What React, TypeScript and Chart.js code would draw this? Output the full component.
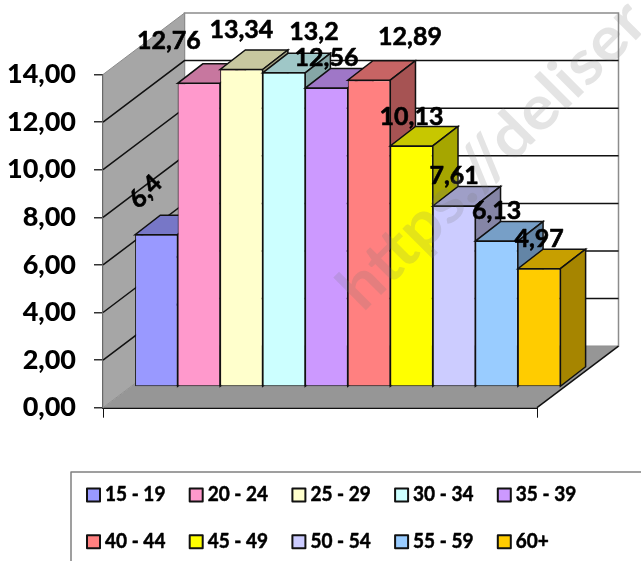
import React, { useEffect, useRef } from "react";
import { Chart, registerables } from "chart.js";

Chart.register(...registerables);

const ageGroups = ["15 - 19", "20 - 24", "25 - 29", "30 - 34", "35 - 39", "40 - 44", "45 - 49", "50 - 54", "55 - 59", "60+"];
const rates = [6.4, 12.76, 13.34, 13.2, 12.56, 12.89, 10.13, 7.61, 6.13, 4.97];
const rateLabels = ["6,4", "12,76", "13,34", "13,2", "12,56", "12,89", "10,13", "7,61", "6,13", "4,97"];
const barColors = ["#9999FF", "#FF99CC", "#FFFFCC", "#CCFFFF", "#CC99FF", "#FF8080", "#FFFF00", "#CCCCFF", "#99CCFF", "#FFCC00"];
const labelOffsets = [[-11, -42], [-30, -41], [0, -39], [30, -40], [0, -29], [41, -42], [0, -28], [0, -29], [0, -29], [0, -29]];
const labelAngles = [-45, 0, 0, 0, 0, 0, 0, 0, 0, 0];

const FONT = "Lato, 'Open Sans', sans-serif";
const WALL_DX = 81.5;
const WALL_DY = -61.5;
const BAR_TX = 27.75;
const BAR_TY = -20.7;
const LABEL_TY = -21.7;
const DEPTH_DX = 25.2;
const DEPTH_DY = -19.5;

const shade = (hex: string, f: number) => {
  const n = parseInt(hex.slice(1), 16);
  const r = Math.round(((n >> 16) & 255) * f);
  const g = Math.round(((n >> 8) & 255) * f);
  const b = Math.round((n & 255) * f);
  return `rgb(${r},${g},${b})`;
};

const poly = (ctx: CanvasRenderingContext2D, pts: number[][], fill: string, stroke?: string, lw = 1.5) => {
  ctx.beginPath();
  pts.forEach((p, i) => (i ? ctx.lineTo(p[0], p[1]) : ctx.moveTo(p[0], p[1])));
  ctx.closePath();
  ctx.fillStyle = fill;
  ctx.fill();
  if (stroke) {
    ctx.strokeStyle = stroke;
    ctx.lineWidth = lw;
    ctx.stroke();
  }
};

const walls3d = {
  id: "walls3d",
  beforeDatasetsDraw(chart: any) {
    const { ctx, chartArea: a, scales } = chart;
    const y = scales.y;
    const L = a.left, R = a.right, T = a.top, B = a.bottom;
    ctx.save();
    poly(ctx, [[L + WALL_DX, T + WALL_DY], [R + WALL_DX, T + WALL_DY], [R + WALL_DX, B + WALL_DY], [L + WALL_DX, B + WALL_DY]], "#FFFFFF", "#8C8C8C", 1.5);
    poly(ctx, [[L, T], [L + WALL_DX, T + WALL_DY], [L + WALL_DX, B + WALL_DY], [L, B]], "#A6A6A6", "#8C8C8C", 1);
    poly(ctx, [[L, B], [R, B], [R + WALL_DX, B + WALL_DY], [L + WALL_DX, B + WALL_DY]], "#969696");
    y.ticks.forEach((t: any) => {
      if (t.value === 0 || t.value === y.max) return;
      const py = y.getPixelForValue(t.value);
      ctx.beginPath();
      ctx.moveTo(L, py);
      ctx.lineTo(L + WALL_DX, py + WALL_DY);
      ctx.lineTo(R + WALL_DX, py + WALL_DY);
      ctx.strokeStyle = "#111111";
      ctx.lineWidth = 1.5;
      ctx.stroke();
    });
    ctx.beginPath();
    ctx.moveTo(R, B);
    ctx.lineTo(R + WALL_DX, B + WALL_DY);
    ctx.strokeStyle = "#111111";
    ctx.lineWidth = 1.5;
    ctx.stroke();
    ctx.restore();
  },
  beforeDatasetDraw() {
    return false;
  },
  afterDatasetsDraw(chart: any) {
    const { ctx } = chart;
    ctx.save();
    ctx.translate(BAR_TX, BAR_TY);
    chart.data.datasets.forEach((ds: any, i: number) => {
      const el = chart.getDatasetMeta(i).data[0];
      const { x, y, base, width } = el.getProps(["x", "y", "base", "width"], true);
      const l = x - width / 2, r = x + width / 2;
      const col = ds.backgroundColor as string;
      poly(ctx, [[l, y], [r, y], [r + DEPTH_DX, y + DEPTH_DY], [l + DEPTH_DX, y + DEPTH_DY]], shade(col, 0.78), "#111111");
      poly(ctx, [[r, y], [r + DEPTH_DX, y + DEPTH_DY], [r + DEPTH_DX, base + DEPTH_DY], [r, base]], shade(col, 0.65), "#111111");
      el.draw(ctx);
    });
    ctx.restore();
  },
};

const overlays = {
  id: "overlays",
  afterDraw(chart: any) {
    const { ctx } = chart;
    ctx.save();
    ctx.fillStyle = "#000000";
    ctx.strokeStyle = "#000000";
    ctx.lineWidth = 0.6;
    ctx.lineJoin = "round";
    ctx.font = `bold 25px ${FONT}`;
    ctx.textAlign = "center";
    ctx.textBaseline = "middle";
    chart.data.datasets.forEach((_: any, i: number) => {
      const el = chart.getDatasetMeta(i).data[0];
      ctx.save();
      ctx.translate(el.x + BAR_TX + labelOffsets[i][0], el.y + LABEL_TY + labelOffsets[i][1]);
      ctx.rotate((labelAngles[i] * Math.PI) / 180);
      ctx.fillText(rateLabels[i], 0, 0);
      ctx.strokeText(rateLabels[i], 0, 0);
      ctx.restore();
    });
    ctx.strokeStyle = "#808080";
    ctx.lineWidth = 1.5;
    ctx.beginPath();
    ctx.rect(71, 472, 600, 120);
    ctx.stroke();
    ctx.textAlign = "left";
    chart.data.datasets.forEach((ds: any, i: number) => {
      const col = i % 5, row = Math.floor(i / 5);
      const x = 86 + col * 102.7;
      const y = 495 + row * 46.7;
      ctx.fillStyle = ds.backgroundColor;
      ctx.strokeStyle = "#111111";
      ctx.lineWidth = 2;
      ctx.beginPath();
      ctx.rect(x + 1, y - 6.5, 13, 13);
      ctx.fill();
      ctx.stroke();
      ctx.save();
      ctx.translate(x + 19, y);
      ctx.scale(0.95, 1);
      ctx.font = `bold 20px ${FONT}`;
      ctx.fillStyle = "#000000";
      ctx.strokeStyle = "#000000";
      ctx.lineWidth = 0.5;
      ctx.fillText(ds.label, 0, 0);
      ctx.strokeText(ds.label, 0, 0);
      ctx.restore();
    });
    ctx.save();
    ctx.translate(363, 313);
    ctx.rotate((-45 * Math.PI) / 180);
    ctx.scale(1.07, 1);
    ctx.font = `bold 62px ${FONT}`;
    ctx.textAlign = "left";
    ctx.textBaseline = "alphabetic";
    ctx.fillStyle = "rgba(120,120,120,0.2)";
    ctx.fillText("https://deliser", 0, 0);
    ctx.restore();
    ctx.restore();
  },
};

export default function App() {
  const ref = useRef<HTMLCanvasElement>(null);
  useEffect(() => {
    const chart = new Chart(ref.current as HTMLCanvasElement, {
      type: "bar",
      data: {
        labels: [""],
        datasets: ageGroups.map((label, i) => ({
          label,
          data: [rates[i]],
          backgroundColor: barColors[i],
          borderColor: "#111111",
          borderWidth: 1,
          borderSkipped: false,
        })),
      },
      options: {
        responsive: false,
        animation: false,
        events: [],
        devicePixelRatio: 1,
        layout: { padding: { left: 0, right: 104, top: 74.5, bottom: 143.3 } },
        datasets: { bar: { categoryPercentage: 0.98, barPercentage: 1 } },
        plugins: { legend: { display: false }, tooltip: { enabled: false } },
        scales: {
          x: {
            afterFit: (s: any) => { s.height = 10; },
            grid: { drawOnChartArea: false, drawTicks: true, tickLength: 10, color: "#111111", lineWidth: 1 },
            border: { color: "#111111", width: 2 },
            ticks: { display: false },
          },
          y: {
            min: 0,
            max: 14,
            afterFit: (s: any) => { s.width = 103; },
            grid: { drawOnChartArea: false, drawTicks: true, tickLength: 9, color: "#333333", lineWidth: 1.5 },
            border: { color: "#444444", width: 1.5 },
            ticks: {
              stepSize: 2,
              padding: 18,
              color: "#000000",
              font: { family: FONT, weight: "900", size: 27 },
              callback: (v: any) => Number(v).toFixed(2).replace(".", ","),
            },
          },
        },
      } as any,
      plugins: [walls3d, overlays],
    });
    return () => chart.destroy();
  }, []);
  return (
    <div style={{ position: "absolute", left: 0, top: 0, width: 641, height: 561, background: "#fff" }}>
      <canvas ref={ref} width={641} height={561} style={{ display: "block" }} />
    </div>
  );
}
